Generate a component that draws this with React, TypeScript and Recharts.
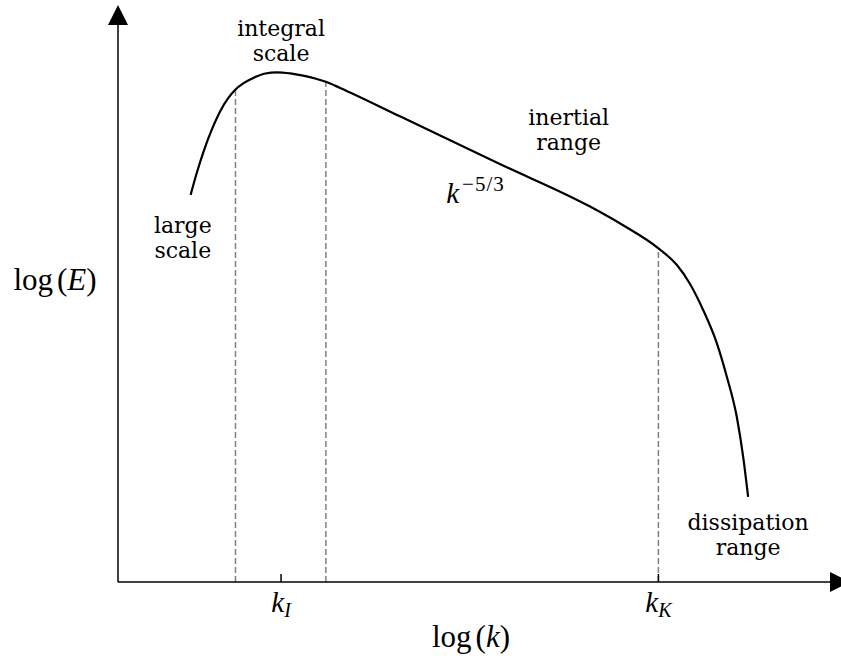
import { ComposedChart, Line, XAxis, YAxis, ReferenceLine, ReferenceDot, Label } from 'recharts';

// energy spectrum on log–log axes, both axes in arbitrary units 0..10
const logK = [
  1.02, 1.11, 1.21, 1.32, 1.43, 1.55, 1.64, 1.77, 1.9, 2.07, 2.23, 2.42, 2.6, 2.77, 2.92, 3.12,
  3.96, 5.37, 6.63, 7.1, 7.59, 7.85, 8.03, 8.22, 8.41, 8.55, 8.69, 8.78, 8.85,
];
const logE = [
  6.95, 7.36, 7.76, 8.13, 8.44, 8.69, 8.83, 8.96, 9.05, 9.13, 9.15, 9.13, 9.09, 9.04, 8.98, 8.87,
  8.36, 7.5, 6.74, 6.4, 5.99, 5.69, 5.36, 4.88, 4.29, 3.69, 2.97, 2.25, 1.53,
];

// dashed guides dropped from the curve to the k axis
const guideK = [1.65, 2.92, 7.59];
const guideE = [8.83, 8.98, 5.99];

// k axis ticks: integral and Kolmogorov wavenumbers
const tickK = [2.29, 7.59];
const tickSub = ['I', 'K'];

const noteText = [['integral', 'scale'], ['large', 'scale'], ['inertial', 'range'], ['dissipation', 'range']];
const noteK = [2.29, 0.91, 6.33, 8.85];
const noteE = [9.8, 6.27, 8.2, 0.93];

const rows = logK.map((k, i) => ({ logK: k, logE: logE[i] }));

const SERIF = 'DejaVu Serif';
const MATH = 'Liberation Serif';

function KTick(props: any) {
  const { x, y, payload } = props;
  const sub = tickSub[tickK.indexOf(payload.value)];
  return (
    <text x={x} y={y} textAnchor="middle" fontFamily={MATH} fontSize={29} fill="#000">
      <tspan fontStyle="italic">k</tspan>
      <tspan fontStyle="italic" fontSize={20} dy={5}>{sub}</tspan>
    </text>
  );
}

function KTitle(props: any) {
  const { x, y, width } = props.viewBox;
  return (
    <text x={x + width / 2 - 3} y={y + 65} textAnchor="middle" fontFamily={MATH} fontSize={31} fill="#000">
      log<tspan dx={4}>(</tspan>
      <tspan fontStyle="italic">k</tspan>)
    </text>
  );
}

function ETitle(props: any) {
  const { x, y } = props.viewBox;
  return (
    <text x={x - 62} y={y + 265} textAnchor="middle" fontFamily={MATH} fontSize={31} fill="#000">
      log<tspan dx={4}>(</tspan>
      <tspan fontStyle="italic">E</tspan>)
    </text>
  );
}

const ArrowRight = ({ cx, cy }: any) => (
  <path d={`M${cx},${cy - 10}L${cx + 20},${cy}L${cx},${cy + 10}Z`} fill="#000" />
);
const ArrowUp = ({ cx, cy }: any) => (
  <path d={`M${cx - 10},${cy}L${cx},${cy - 20}L${cx + 10},${cy}Z`} fill="#000" />
);

const note = (lines: string[]) => ({ cx, cy }: any) => (
  <text x={cx} y={cy} textAnchor="middle" fontFamily={SERIF} fontSize={22} fill="#000">
    {lines.map((s, i) => (
      <tspan key={i} x={cx} dy={i === 0 ? 0 : 25}>{s}</tspan>
    ))}
  </text>
);

const Slope = ({ cx, cy }: any) => (
  <text x={cx} y={cy} fontFamily={MATH} fontSize={29} fill="#000">
    <tspan fontStyle="italic">k</tspan>
    <tspan fontSize={21} dx={3} dy={-12} letterSpacing={1}>−5/3</tspan>
  </text>
);

export default function App() {
  return (
    <div style={{ position: 'absolute', left: 0, top: 0 }}>
      <ComposedChart width={841} height={662} data={rows} margin={{ top: 25, right: 11, bottom: 50, left: 117 }}>
        <XAxis
          type="number"
          dataKey="logK"
          domain={[0, 10]}
          ticks={tickK}
          interval={0}
          height={30}
          tickSize={-8}
          tickMargin={38}
          tick={<KTick />}
          tickLine={{ stroke: '#000', strokeWidth: 1.5 }}
          axisLine={{ stroke: '#000', strokeWidth: 1.5 }}
          label={<Label content={KTitle} />}
        />
        <YAxis
          type="number"
          domain={[0, 10]}
          width={1}
          tick={false}
          tickLine={false}
          axisLine={{ stroke: '#000', strokeWidth: 1.5 }}
          label={<Label content={ETitle} />}
        />
        {guideK.map((k, i) => (
          <ReferenceLine
            key={k}
            segment={[{ x: k, y: 0 }, { x: k, y: guideE[i] }]}
            stroke="#808080"
            strokeWidth={1.5}
            strokeDasharray="6 3"
          />
        ))}
        <Line type="monotone" dataKey="logE" stroke="#000" strokeWidth={2.2} dot={false} isAnimationActive={false} />
        {noteText.map((lines, i) => (
          <ReferenceDot key={i} x={noteK[i]} y={noteE[i]} r={0} ifOverflow="visible" shape={note(lines)} />
        ))}
        <ReferenceDot x={4.61} y={6.8} r={0} ifOverflow="visible" shape={Slope} />
        <ReferenceDot x={10} y={0} r={0} ifOverflow="visible" shape={ArrowRight} />
        <ReferenceDot x={0} y={10} r={0} ifOverflow="visible" shape={ArrowUp} />
      </ComposedChart>
    </div>
  );
}
